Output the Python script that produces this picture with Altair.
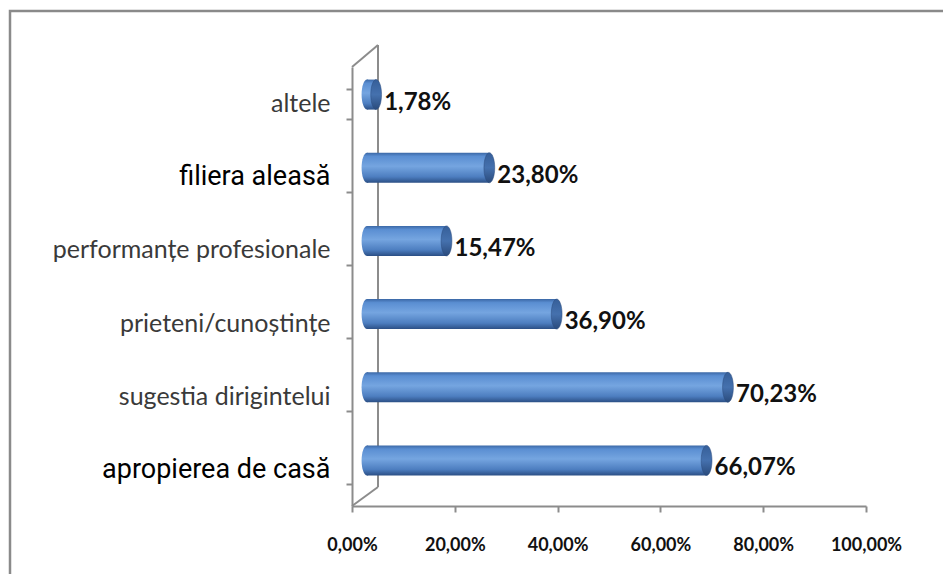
import altair as alt
import pandas as pd

categories = ["altele", "filiera aleasă", "performanțe profesionale ", "prieteni/cunoștințe",
              "sugestia dirigintelui ", "apropierea de casă"]
values = [1.78, 23.80, 15.47, 36.90, 70.23, 66.07]
x_ticks = [0, 20, 40, 60, 80, 100]

df = pd.DataFrame({"cat": categories, "val": values})
one = pd.DataFrame({"k": [0]})

W, H = 514, 439
DX, DY = 15, -9  # 3D depth shift of bars

big = "indexof(['filiera aleasă','apropierea de casă'], datum.value) >= 0"
AX = "#8c8c8c"

fmt = "replace(format(datum.value, '.2f'), '.', ',') + '%'"

axis_layer = alt.Chart(df).mark_point(opacity=0).encode(
    x=alt.X("val:Q", scale=alt.Scale(domain=[0, 100]),
            axis=alt.Axis(values=x_ticks, labelExpr=fmt, title=None, grid=False,
                          domainColor=AX, domainWidth=2, tickColor=AX, tickWidth=2,
                          tickSize=6, labelPadding=24, labelFont="Lato", labelFlush=False,
                          labelFontSize=18, labelFontWeight="bold", labelColor="#111")),
    y=alt.Y("cat:N", sort=categories, scale=alt.Scale(paddingInner=0.59, paddingOuter=0.295),
            axis=alt.Axis(title=None, tickBand="extent", domainColor=AX, domainWidth=2,
                          tickColor=AX, tickWidth=2, tickSize=6, labelPadding=16,
                          labelFont={"condition": {"test": big, "value": "Roboto"}, "value": "Lato"},
                          labelFontSize={"condition": {"test": big, "value": 27}, "value": 25},
                          labelColor={"condition": {"test": big, "value": "#000"}, "value": "#3a3a3a"},
                          labelLimit=400)),
)

xs = alt.X("val:Q", scale=alt.Scale(domain=[0, 100], range=[DX, W + DX]), axis=None)
ys = alt.Y("cat:N", sort=categories,
           scale=alt.Scale(paddingInner=0.59, paddingOuter=0.295, range=[DY, H + DY]), axis=None)

body_grad = {"gradient": "linear", "x1": 0, "y1": 0, "x2": 0, "y2": 1,
             "stops": [{"offset": 0, "color": "#3b68a6"},
                       {"offset": 0.12, "color": "#5a8ed2"},
                       {"offset": 0.45, "color": "#75a5e0"},
                       {"offset": 0.8, "color": "#4d7ec0"},
                       {"offset": 1, "color": "#2b4f85"}]}
cap_grad = {"gradient": "linear", "x1": 0, "y1": 0, "x2": 0, "y2": 1,
            "stops": [{"offset": 0, "color": "#365f99"},
                      {"offset": 0.5, "color": "#4571ae"},
                      {"offset": 1, "color": "#2a4b7c"}]}
ellipse = "M0,-1 A0.36,1 0 1,1 0,1 A0.36,1 0 1,1 0,-1 Z"

base = alt.Chart(df)
lcap = base.mark_point(shape=ellipse, size=900, filled=True, opacity=1, fill=body_grad,
                       strokeWidth=0).encode(
    x=alt.X("zero:Q", scale=alt.Scale(domain=[0, 100], range=[DX, W + DX]), axis=None),
    y=ys).transform_calculate(zero="0")
body = base.mark_bar(fill=body_grad).encode(x=xs, x2=alt.datum(0), y=ys)
rcap = base.mark_point(shape=ellipse, size=900, filled=True, opacity=1, fill=cap_grad,
                       stroke="#2a4b7c", strokeWidth=0.5).encode(x=xs, y=ys)
labels = base.mark_text(align="left", baseline="middle", dx=8, dy=8, font="Lato",
                        fontSize=24, fontWeight="bold", color="#111").encode(
    x=xs, y=ys, text="lab:N").transform_calculate(
    lab="replace(format(datum.val, '.2f'), '.', ',') + '%'")

bars = alt.layer(lcap, body, rcap, labels)

frame = alt.Chart(one).mark_rect(fill=None, stroke="#8a8a8a", strokeWidth=2.5).encode(
    x=alt.value(-342), x2=alt.value(W + 300), y=alt.value(-56), y2=alt.value(H + 200))
wall_v = alt.Chart(one).mark_rule(color=AX, strokeWidth=2).encode(
    x=alt.value(26), y=alt.value(-22), y2=alt.value(H - 19))
wall_t = alt.Chart(one).mark_rule(color=AX, strokeWidth=2).encode(
    x=alt.value(0), x2=alt.value(26), y=alt.value(0), y2=alt.value(-22))
wall_b = alt.Chart(one).mark_rule(color=AX, strokeWidth=2).encode(
    x=alt.value(0), x2=alt.value(26), y=alt.value(H), y2=alt.value(H - 19))

chart = alt.layer(frame, wall_v, wall_t, wall_b, axis_layer, bars).resolve_scale(
    x="independent", y="independent").properties(
    width=W, height=H, autosize=alt.AutoSizeParams(type="none"),
    padding={"left": 344, "top": 59, "right": 77, "bottom": 68}, background="white"
).configure_view(strokeWidth=0)

chart.save("out.html", embed_options={"renderer": "svg", "actions": False})
